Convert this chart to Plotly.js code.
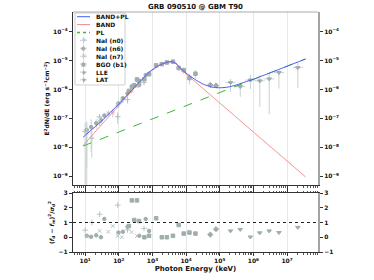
<!DOCTYPE html>
<html><head><meta charset="utf-8">
<script src="https://cdn.plot.ly/plotly-3.0.1.min.js"></script>
<style>html,body{margin:0;padding:0;background:#fff}#c{width:374px;height:280px}</style>
</head><body><div id="c"></div>
<script>
// ---- model curves (E in keV, E^2 dN/dE in erg s^-1 cm^-2) ----
const modelE   = [8.7,10,31.6,100,316,851,1585,2512,3548,5012,7079,1e4,1.78e4,3.16e4,5.62e4,1e5,1.78e5,3.16e5,5.62e5,1e6,3.16e6,1e7,3.55e7];
const bandPL   = [2.24e-8,2.57e-8,8.32e-8,3.16e-7,1.32e-6,4.27e-6,6.92e-6,8.65e-6,9.29e-6,8.15e-6,5.25e-6,3.72e-6,2.29e-6,1.56e-6,1.23e-6,1.15e-6,1.22e-6,1.45e-6,1.82e-6,2.29e-6,3.81e-6,6.46e-6,1.15e-5];
const band     = [1.15e-8,1.38e-8,6.31e-8,2.82e-7,1.26e-6,4.17e-6,6.76e-6,8.51e-6,9.12e-6,7.94e-6,5.01e-6,3.47e-6,1.95e-6,1.10e-6,6.17e-7,3.47e-7,1.95e-7,1.10e-7,6.17e-8,3.47e-8,1.10e-8,3.39e-9,9.33e-10];
const plE      = [8.7,3.55e7];
const pl       = [1.10e-8,1.15e-5];

// ---- data ----
const n0E = [10,15.8,26.9,93.3,182,562];
const n0F = [3.55e-8,2.04e-8,1.12e-7,1.15e-7,4.47e-7,1.78e-6];
const n0Err = [3.5e-8,1.6e-8,3e-8,5e-8,1.2e-7,3e-7];
const n0Res = [0.48,1.0,1.56,2.18,0.5,0.6];

const n6E = [11.2,15.1,21.4,29.5,37.2,97.7,132,182,407,631,794];
const n6F = [4.0e-8,5.0e-8,6.8e-8,8.7e-8,1.26e-7,3.3e-7,5.0e-7,7.4e-7,1.45e-6,3.2e-6,3.55e-6];
const n6Err = [3.96e-8,4.3e-8,2.5e-8,2.5e-8,3e-8,8e-8,1e-7,1.3e-7,2.5e-7,4e-7,5e-7];
const n6Res = [0.1,0.03,0.13,0.0,1.24,0.32,0.37,0.71,0.1,1.24,0.43];

const n7E = [11.2,26.9,49,66,93,123,240,347];
const n7F = [3.2e-8,7.9e-8,1.5e-7,1.6e-7,2.8e-7,4.0e-7,8.9e-7,1.32e-6];
const n7Err = [3e-8,2.5e-8,4e-8,5e-8,6e-8,8e-8,1.5e-7,2e-7];
const n7Res = [0.05,0.43,0.37,0.76,0.08,0.0,0.35,0.08];

const bgoE = [200,245,288,347,398,575,794,1290,1900,2690,4070,6030,8510,12600,19000];
const bgoF = [8.9e-7,1.26e-6,1.41e-6,2.24e-6,2.0e-6,2.29e-6,3.39e-6,6.9e-6,7.6e-6,8.7e-6,9.3e-6,5.6e-6,4.7e-6,2.5e-6,3.55e-6];
const bgoErr = [2e-7,2.5e-7,3e-7,4.5e-7,3.5e-7,4e-7,5e-7,7e-7,8e-7,9e-7,1e-6,1.1e-6,1.2e-6,1.0e-6,1.2e-6];
const bgoRes = [0.76,2.5,1.17,2.5,1.1,0.0,0.1,1.29,0.0,0.0,0.1,0.83,0.25,0.32,0.25];

const lleE = [52500,77600];
const lleF = [1.45e-6,1.38e-6];
const lleErr = [2.5e-7,2.5e-7];
const lleRes = [0.18,0.55];

const latE = [2.09e5,4.07e5,8.13e5,1.55e6,2.95e6,5.75e6,2.09e7];
const latF = [1.74e-6,1.26e-6,2.14e-6,2.0e-6,2.34e-6,3.89e-6,5.75e-6];
const latErrUp = [6e-7,5e-7,1.1e-6,1.2e-6,1.5e-6,1.1e-6,2.8e-6];
const latErrDn = [9e-7,7e-7,1.1e-6,1.75e-6,2.2e-6,2.8e-6,4.6e-6];
const latRes = [0.43,0.53,0.02,0.3,0.43,0.32,0.67];

// ---- ticks ----
const xTickVals = [10,100,1e3,1e4,1e5,1e6,1e7];
const xTickText = ['10<sup>1</sup>','10<sup>2</sup>','10<sup>3</sup>','10<sup>4</sup>','10<sup>5</sup>','10<sup>6</sup>','10<sup>7</sup>'];
const yTickVals = [1e-9,1e-8,1e-7,1e-6,1e-5,1e-4];
const yTickText = ['10<sup>−9</sup>','10<sup>−8</sup>','10<sup>−7</sup>','10<sup>−6</sup>','10<sup>−5</sup>','10<sup>−4</sup>'];
const rTickVals = [-1,0,1,2,3];
const rTickText = ['−1','0','1','2','3'];

const legendNames = ['BAND+PL','BAND','PL','NaI (n0)','NaI (n6)','NaI (n7)','BGO (b1)','LLE','LAT'];

const F = 'DejaVu Sans';
const tf = {family:F,size:6,color:'#111',weight:'bold'};
const errC = '#c9d1d1';
const ptC = '#9fadad';
const ptL = '#b7c2c2';

function dataTrace(x,y,err,sym,col,size,extra){
  const t = {x:x,y:y,xaxis:'x2',yaxis:'y2',type:'scatter',mode:'markers',
    marker:{symbol:sym,size:size,color:col,line:{color:col,width:1}},
    error_y:{type:'data',array:err,color:errC,thickness:1,width:0},
    error_x:{type:'percent',value:12,color:errC,thickness:1,width:0},showlegend:false,hoverinfo:'skip'};
  return Object.assign(t,extra||{});
}
function resTrace(x,y,sym,col,size){
  return {x:x,y:y,xaxis:'x',yaxis:'y',type:'scatter',mode:'markers',
    marker:{symbol:sym,size:size,color:col,line:{color:col,width:1}},showlegend:false,hoverinfo:'skip'};
}

const traces = [
  dataTrace(n0E,n0F,n0Err,'cross-thin',ptL,4),
  dataTrace(n6E,n6F,n6Err,'circle',ptC,3.5),
  dataTrace(n7E,n7F,n7Err,'x-thin',ptL,3.5),
  dataTrace(bgoE,bgoF,bgoErr,'square',ptC,3.5),
  dataTrace(lleE,lleF,lleErr,'diamond',ptC,4),
  dataTrace(latE,latF,null,'triangle-down',ptC,4,{
    error_y:{type:'data',symmetric:false,array:latErrUp,arrayminus:latErrDn,color:errC,thickness:1,width:0},
    error_x:{type:'percent',symmetric:false,value:41,valueminus:29,color:errC,thickness:1,width:0}}),
  {x:modelE,y:band,xaxis:'x2',yaxis:'y2',mode:'lines',line:{color:'#f08a8a',width:0.9},showlegend:false,hoverinfo:'skip'},
  {x:plE,y:pl,xaxis:'x2',yaxis:'y2',mode:'lines',line:{color:'#3cb83c',width:1,dash:'dash'},showlegend:false,hoverinfo:'skip'},
  {x:modelE,y:bandPL,xaxis:'x2',yaxis:'y2',mode:'lines',line:{color:'#4a5ef0',width:1,shape:'spline',smoothing:0.5},showlegend:false,hoverinfo:'skip'},
  resTrace(n0E,n0Res,'cross-thin',ptL,4),
  resTrace(n6E,n6Res,'circle',ptC,3.5),
  resTrace(n7E,n7Res,'x-thin',ptL,3.5),
  resTrace(bgoE,bgoRes,'square',ptC,3.5),
  resTrace(lleE,lleRes,'diamond',ptC,4),
  resTrace(latE,latRes,'triangle-down',ptC,4)
];

// legend (built from shapes + annotations: Plotly's own legend rows are too tall here)
const W = 245, H = 240, L = 73, B = 252;
const px = v => (v - L)/W, py = v => (B - v)/H;
const rowY = [16.7,24.6,32.5,40.4,48.3,56.2,64.1,72,79.9];
const shapes = [
  {type:'rect',xref:'paper',yref:'paper',x0:px(75),x1:px(125),y0:py(85),y1:py(13),line:{color:'#cfcfcf',width:1},fillcolor:'rgba(255,255,255,0.85)'},
  {type:'line',xref:'paper',yref:'paper',x0:0,x1:1,y0:1,y1:1,line:{color:'#aaaaaa',width:1}},
  {type:'line',xref:'paper',yref:'y',x0:0,x1:1,y0:1,y1:1,line:{color:'#222',width:1,dash:'dot'}},
  {type:'line',xref:'paper',yref:'paper',x0:px(77),x1:px(90),y0:py(rowY[0]),y1:py(rowY[0]),line:{color:'#4a5ef0',width:1}},
  {type:'line',xref:'paper',yref:'paper',x0:px(77),x1:px(90),y0:py(rowY[1]),y1:py(rowY[1]),line:{color:'#f08a8a',width:1}},
  {type:'line',xref:'paper',yref:'paper',x0:px(77),x1:px(90),y0:py(rowY[2]),y1:py(rowY[2]),line:{color:'#3cb83c',width:1.5,dash:'dot'}}
];
const glyphs = ['+','●','×','■','◆','▼'];
const gsize = [7,5,7,5,5,5];
const gcol = [ptL,ptC,ptL,ptC,ptC,ptC];
const annotations = [];
for (let i=0;i<6;i++){
  const yy = rowY[i+3];
  shapes.push({type:'line',xref:'paper',yref:'paper',x0:px(80),x1:px(87),y0:py(yy),y1:py(yy),line:{color:errC,width:1}});
  shapes.push({type:'line',xref:'paper',yref:'paper',x0:px(83.5),x1:px(83.5),y0:py(yy-3.5),y1:py(yy+3.5),line:{color:errC,width:1}});
  annotations.push({xref:'paper',yref:'paper',x:px(83.5),y:py(yy),text:glyphs[i],showarrow:false,xanchor:'center',yanchor:'middle',
    font:{family:F,size:gsize[i],color:gcol[i]}});
}
legendNames.forEach((n,i)=>annotations.push({xref:'paper',yref:'paper',x:px(93.5),y:py(rowY[i]),text:n,showarrow:false,
  xanchor:'left',yanchor:'middle',font:{family:F,size:6,color:'#111',weight:'bold'}}));

const layout = {
  width:374,height:280,margin:{l:73,r:56,t:12,b:28},paper_bgcolor:'#fff',plot_bgcolor:'#fff',showlegend:false,
  title:{text:'GRB 090510 @ GBM T90',font:{family:F,size:7,color:'#111',weight:'bold'},x:0.5,xref:'paper',y:1-7/280,yref:'container',yanchor:'middle'},
  xaxis:{domain:[0,1],anchor:'y',type:'log',range:[0.64,7.92],tickmode:'array',tickvals:xTickVals,ticktext:xTickText,
    ticks:'outside',ticklen:3,tickcolor:'#333',showline:true,linecolor:'#333',linewidth:1,mirror:'ticks',
    showgrid:true,gridcolor:'#e8e8e8',gridwidth:1,tickfont:tf,
    minor:{tickmode:'linear',dtick:'D1',ticks:'outside',ticklen:1.5,tickcolor:'#555',showgrid:false},
    title:{text:'Photon Energy (keV)',font:{family:F,size:7,color:'#111',weight:'bold'},standoff:2}},
  yaxis:{domain:[0,59/240],anchor:'x',range:[-1,3],tickmode:'array',tickvals:rTickVals,ticktext:rTickText,
    ticks:'outside',ticklen:3,tickcolor:'#333',showline:true,linecolor:'#333',linewidth:1,zeroline:false,showgrid:false,tickfont:tf,
    title:{text:'(<i>f</i><sub>d</sub> − <i>f</i><sub>m</sub>)<sup>2</sup>/<i>σ</i><sub>d</sub><sup>2</sup>',font:{family:F,size:6,color:'#111',weight:'bold'},standoff:3}},
  yaxis4:{overlaying:'y',side:'right',anchor:'x',range:[-1,3],tickmode:'array',tickvals:rTickVals,ticktext:rTickText,
    ticks:'outside',ticklen:3,tickcolor:'#333',showline:true,linecolor:'#a3a3a3',linewidth:2,zeroline:false,showgrid:false,tickfont:tf},
  xaxis2:{domain:[0,1],anchor:'y2',matches:'x',type:'log',range:[0.64,7.92],tickmode:'array',tickvals:xTickVals,showticklabels:false,
    ticks:'outside',ticklen:3,tickcolor:'#333',showline:true,linecolor:'#333',linewidth:1,
    showgrid:true,gridcolor:'#e8e8e8',gridwidth:1,
    minor:{tickmode:'linear',dtick:'D1',ticks:'outside',ticklen:1.5,tickcolor:'#555',showgrid:false}},
  yaxis2:{domain:[67/240,1],anchor:'x2',type:'log',range:[-9.31,-3.31],tickmode:'array',tickvals:yTickVals,ticktext:yTickText,
    ticks:'outside',ticklen:3,tickcolor:'#333',showline:true,linecolor:'#333',linewidth:1,showgrid:false,tickfont:tf,
    title:{text:'E<sup>2</sup>dN/dE (erg s<sup>−1</sup>cm<sup>−2</sup>)',font:{family:F,size:6,color:'#111',weight:'bold'},standoff:2}},
  yaxis3:{overlaying:'y2',side:'right',anchor:'x2',type:'log',range:[-9.31,-3.31],tickmode:'array',tickvals:yTickVals,ticktext:yTickText,
    ticks:'outside',ticklen:3,tickcolor:'#333',showline:true,linecolor:'#a3a3a3',linewidth:2,showgrid:false,tickfont:tf},
  shapes:shapes,annotations:annotations
};
traces.push({x:[10],y:[1e-20],xaxis:'x2',yaxis:'y3',mode:'markers',marker:{opacity:0},showlegend:false,hoverinfo:'skip'});
traces.push({x:[10],y:[-5],xaxis:'x',yaxis:'y4',mode:'markers',marker:{opacity:0},showlegend:false,hoverinfo:'skip'});
Plotly.newPlot('c',traces,layout,{displayModeBar:false});
</script></body></html>
